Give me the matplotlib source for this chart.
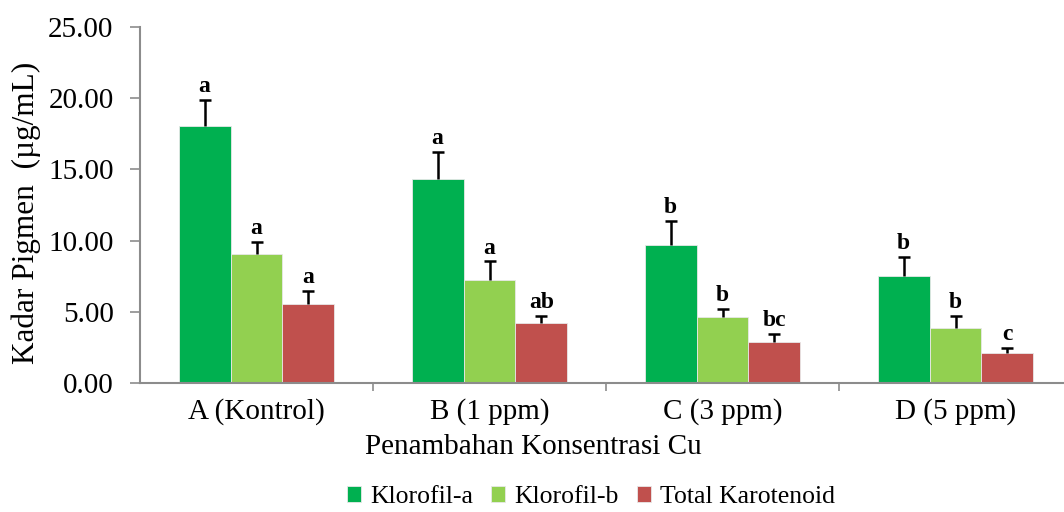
import matplotlib.pyplot as plt
import numpy as np

# ==========================================================
# Data
# ==========================================================

categories = ["A (Kontrol)", "B (1 ppm)", "C (3 ppm)", "D (5 ppm)"]
series = ["Klorofil-a", "Klorofil-b", "Total Karotenoid"]

klorofil_a = [18.05, 14.33, 9.71, 7.54]
klorofil_b = [9.03, 7.23, 4.61, 3.88]
karotenoid = [5.57, 4.21, 2.90, 2.08]

err_a = [1.82, 1.90, 1.69, 1.31]
err_b = [0.87, 1.31, 0.58, 0.85]
err_k = [0.87, 0.52, 0.56, 0.40]

labels_a = ["a", "a", "b", "b"]
labels_b = ["a", "a", "b", "b"]
labels_k = ["a", "ab", "bc", "c"]

colors = ["#00B050", "#92D050", "#C0504D"]

# ==========================================================
# Plot
# ==========================================================

plt.rcParams["font.family"] = ["Liberation Serif", "DejaVu Serif"]

fig = plt.figure(figsize=(10.64, 5.12), dpi=100)
ax = fig.add_axes([140 / 1064, 129 / 512, 932 / 1064, 356 / 512])

x = np.arange(len(categories)) + 0.5
width = 0.223
values = [klorofil_a, klorofil_b, karotenoid]
errors = [err_a, err_b, err_k]
letters = [labels_a, labels_b, labels_k]

for i, (vals, errs, labs) in enumerate(zip(values, errors, letters)):
    pos = x + (i - 1) * width
    tops = np.array(vals) + np.array(errs)
    ax.bar(
        pos,
        vals,
        width,
        color=colors[i],
        edgecolor="#e8e8e8",
        linewidth=0.6,
        label=series[i],
        zorder=2,
    )
    # upper error bar only, cap on top
    ax.errorbar(
        pos,
        vals,
        yerr=[np.zeros(len(vals)), errs],
        fmt="none",
        ecolor="black",
        elinewidth=1.8,
        capsize=0,
        zorder=3,
    )
    ax.plot(
        pos,
        tops,
        linestyle="none",
        marker="_",
        markersize=9,
        markeredgewidth=1.8,
        color="black",
        zorder=3,
    )
    for p, t, lab in zip(pos, tops, labs):
        ax.text(
            p,
            t + 0.55,
            lab,
            ha="center",
            va="baseline",
            fontsize=17,
            fontweight="bold",
        )

ax.set_xlim(0, 4)
ax.set_ylim(0, 25)
ax.set_yticks(np.arange(0, 25.01, 5))
ax.set_yticklabels([f"{v:.2f}" for v in np.arange(0, 25.01, 5)], fontsize=21)

ax.set_xticks([1, 2, 3])
ax.set_xticklabels([])
ax.set_xticks(x, minor=True)
ax.set_xticklabels(categories, minor=True, fontsize=21)
ax.tick_params(axis="x", which="minor", length=0, pad=11)
ax.tick_params(axis="x", which="major", length=6, width=1.2, color="#8c8c8c")
ax.tick_params(axis="y", length=7, width=1.2, color="#8c8c8c", pad=12)

for side in ["top", "right"]:
    ax.spines[side].set_visible(False)
for side in ["left", "bottom"]:
    ax.spines[side].set_color("#8c8c8c")
    ax.spines[side].set_linewidth(1.5)

fig.text(26 / 1064, 1 - 213 / 512, "Kadar Pigmen  (µg/mL)",
         rotation=90, ha="center", va="center", fontsize=22.5)
fig.text(533 / 1064, 1 - 447 / 512, "Penambahan Konsentrasi Cu",
         ha="center", va="center", fontsize=21)

handles, names = ax.get_legend_handles_labels()
fig.legend(
    handles,
    names,
    loc="center",
    bbox_to_anchor=(591 / 1064, 1 - 497 / 512),
    ncol=3,
    frameon=False,
    fontsize=18.5,
    handlelength=0.55,
    handleheight=0.55,
    handletextpad=0.35,
    columnspacing=0.7,
    borderpad=0,
)

plt.savefig("out.png", dpi=100)
plt.close()
